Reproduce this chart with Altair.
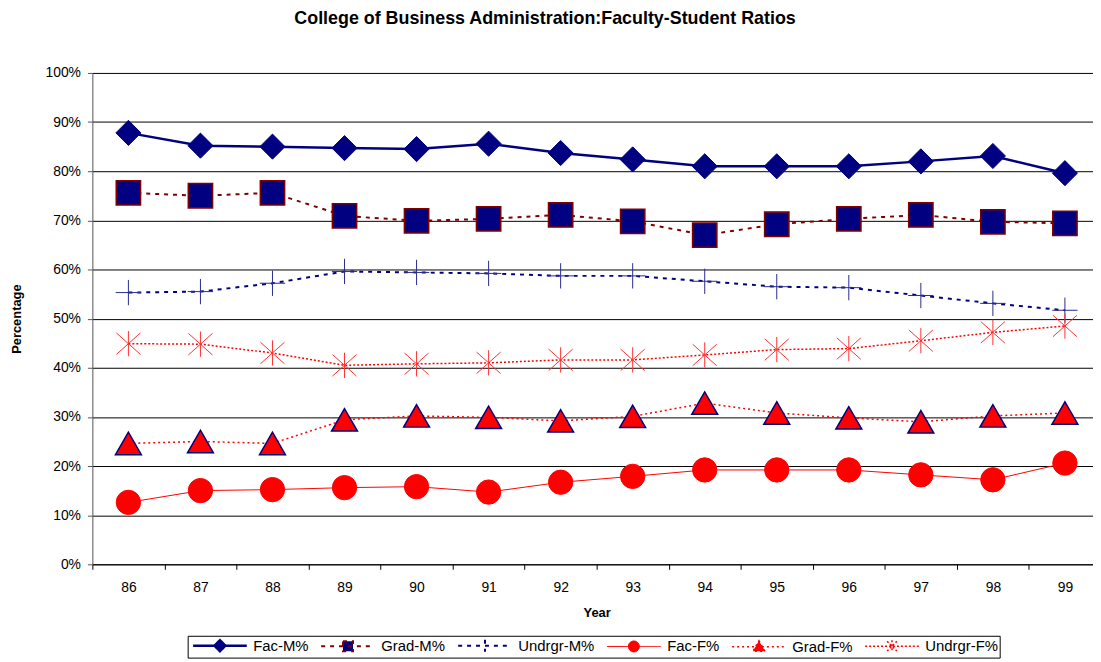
import altair as alt
import pandas as pd

# ---------------- data ----------------
years = ["86", "87", "88", "89", "90", "91", "92", "93", "94", "95", "96", "97", "98", "99"]

fac_m = [87.8, 85.2, 85.0, 84.7, 84.5, 85.6, 83.7, 82.4, 81.0, 81.0, 81.0, 82.0, 83.1, 79.6]
grad_m = [75.6, 75.0, 75.6, 70.9, 69.9, 70.3, 71.1, 69.8, 67.0, 69.2, 70.3, 71.1, 69.7, 69.4]
undrgr_m = [55.3, 55.5, 57.2, 59.6, 59.4, 59.2, 58.7, 58.7, 57.6, 56.5, 56.3, 54.7, 53.1, 51.7]
fac_f = [12.6, 15.0, 15.2, 15.6, 15.8, 14.7, 16.7, 17.9, 19.2, 19.2, 19.2, 18.2, 17.2, 20.6]
grad_f = [24.6, 25.0, 24.6, 29.4, 30.2, 29.9, 29.2, 30.1, 32.8, 30.8, 29.8, 29.0, 30.2, 30.8]
undrgr_f = [44.9, 44.8, 43.0, 40.5, 40.8, 41.0, 41.6, 41.6, 42.6, 43.7, 43.9, 45.5, 47.2, 48.5]

series_names = ["Fac-M%", "Grad-M%", "Undrgr-M%", "Fac-F%", "Grad-F%", "Undrgr-F%"]
series_values = [fac_m, grad_m, undrgr_m, fac_f, grad_f, undrgr_f]
y_ticks = [0, 0.1, 0.2, 0.3, 0.4, 0.5, 0.6, 0.7, 0.8, 0.9, 1.0]

rows = []
for name, vals in zip(series_names, series_values):
    for yr, v in zip(years, vals):
        rows.append({"Year": yr, "series": name, "value": v / 100.0})
df = pd.DataFrame(rows)

# ---------------- styles ----------------
NAVY = "#000080"
RED = "#FF0000"
DARKRED = "#800000"
FONT = "Liberation Sans"

PLUS = "M-1,0H1M0,-1V1"
STAR = "M-0.95,-0.85L0.95,0.85M-0.95,0.85L0.95,-0.85M0,-1V1"

styles = {
    "Fac-M%": dict(line=NAVY, lw=2.5, dash=None, shape="diamond", size=640,
                   fill=NAVY, stroke=NAVY, sw=1, filled=True),
    "Grad-M%": dict(line=DARKRED, lw=2, dash=[4, 5], shape="square", size=600,
                    fill=NAVY, stroke=DARKRED, sw=1.5, filled=True),
    "Undrgr-M%": dict(line=NAVY, lw=2, dash=[4, 5], shape=PLUS, size=650,
                      fill="transparent", stroke="#2a2a90", sw=1, filled=False),
    "Fac-F%": dict(line=RED, lw=1, dash=None, shape="circle", size=600,
                   fill=RED, stroke=RED, sw=1, filled=True),
    "Grad-F%": dict(line=RED, lw=1.5, dash=[2, 3], shape="triangle-up", size=680,
                    fill=RED, stroke=NAVY, sw=1.5, filled=True),
    "Undrgr-F%": dict(line=RED, lw=1.5, dash=[2, 2], shape=STAR, size=650,
                      fill="transparent", stroke="#FF3030", sw=1, filled=False),
}

# legend symbols: line segment + small marker in one path (unit = 7 px)
legend_shapes = [
    "M-3.86,0H3.86M-0.79,0L0,-0.79L0.79,0L0,0.79Z",
    "M-3.86,0H3.86M-0.72,-0.72H0.72V0.72H-0.72Z",
    "M-3.86,0H3.86M0,-0.86V0.86",
    "M-3.86,0H3.86M-0.79,0A0.79,0.79,0,1,0,0.79,0A0.79,0.79,0,1,0,-0.79,0Z",
    "M-3.86,0H3.86M0,-0.86L0.86,0.64L-0.86,0.64Z",
    "M-3.86,0H3.86M-0.7,-0.7L0.7,0.7M-0.7,0.7L0.7,-0.7M0,-0.86V0.86",
]
legend_fill = [NAVY, NAVY, "transparent", RED, RED, "transparent"]
legend_stroke = [NAVY, DARKRED, NAVY, RED, RED, RED]
legend_dash = [[1, 0], [4, 5], [4, 5], [1, 0], [2, 3], [2, 2]]
legend_width = [2.5, 2, 2, 1, 1.5, 1.5]

# ---------------- encodings ----------------
x_enc = alt.X(
    "Year:N",
    sort=years,
    scale=alt.Scale(type="band", domain=years, range=[0, 1016], paddingInner=0, paddingOuter=0),
    axis=alt.Axis(
        title="Year", labelAngle=0, tickBand="extent", tickSize=5, tickColor="black",
        domainColor="black", labelFont=FONT, labelFontSize=14, labelColor="black",
        labelPadding=11, titleFont=FONT, titleFontSize=13, titleFontWeight="bold",
        titleColor="black", titlePadding=13, grid=False,
    ),
)
y_enc = alt.Y(
    "value:Q",
    scale=alt.Scale(domain=[0, 1]),
    axis=alt.Axis(
        title="Percentage", format=".0%", values=y_ticks, grid=True, gridColor="black",
        gridWidth=1, domainColor="#555555", tickColor="#555555", tickSize=5,
        labelFont=FONT, labelFontSize=14, labelColor="black", labelPadding=7,
        titleFont=FONT, titleFontSize=13, titleFontWeight="bold", titleColor="black",
        titlePadding=22,
    ),
)

base = alt.Chart(df)
layers = []
for name in series_names:
    s = styles[name]
    line_kwargs = dict(color=s["line"], strokeWidth=s["lw"])
    if s["dash"] is not None:
        line_kwargs["strokeDash"] = s["dash"]
    line = base.transform_filter(alt.datum.series == name).mark_line(**line_kwargs).encode(
        x=x_enc, y=y_enc
    )
    pts = base.transform_filter(alt.datum.series == name).mark_point(
        shape=s["shape"], size=s["size"], filled=s["filled"], fill=s["fill"],
        stroke=s["stroke"], strokeWidth=s["sw"], opacity=1,
    ).encode(x=x_enc, y=y_enc)
    layers += [line, pts]

# legend-only layer (no rows survive the filter, domain is explicit)
legend_layer = base.transform_filter("false").mark_point(opacity=1, size=196).encode(
    x=x_enc,
    y=y_enc,
    shape=alt.Shape("series:N", scale=alt.Scale(domain=series_names, range=legend_shapes),
                    legend=alt.Legend(title=None)),
    fill=alt.Fill("series:N", scale=alt.Scale(domain=series_names, range=legend_fill),
                  legend=alt.Legend(title=None)),
    stroke=alt.Stroke("series:N", scale=alt.Scale(domain=series_names, range=legend_stroke),
                      legend=alt.Legend(title=None)),
    strokeDash=alt.StrokeDash("series:N", scale=alt.Scale(domain=series_names, range=legend_dash),
                              legend=alt.Legend(title=None)),
    strokeWidth=alt.StrokeWidth("series:N",
                                scale=alt.Scale(type="ordinal", domain=series_names, range=legend_width),
                                legend=alt.Legend(title=None)),
)

chart = (
    alt.layer(*layers, legend_layer)
    .properties(
        width=1008,
        height=495,
        padding={"left": 85, "top": 63, "right": 0, "bottom": 96},
        autosize=alt.AutoSizeParams(type="none"),
        title=alt.TitleParams(
            text="College of Business Administration:Faculty-Student Ratios",
            font=FONT, fontSize=18, fontWeight="bold", color="black",
            anchor="middle", frame="group", dx=-48, offset=24, baseline="alphabetic",
        ),
    )
    .configure_view(strokeWidth=0)
    .configure_legend(
        orient="none", legendX=96, legendY=567, direction="horizontal", columns=6,
        strokeColor="black", padding=1, labelFont=FONT, labelFontSize=15,
        labelColor="black", labelOffset=25, symbolOffset=23, columnPadding=8,
        symbolSize=196,
    )
)

chart.save("out.html", embed_options={"renderer": "svg", "actions": False})
